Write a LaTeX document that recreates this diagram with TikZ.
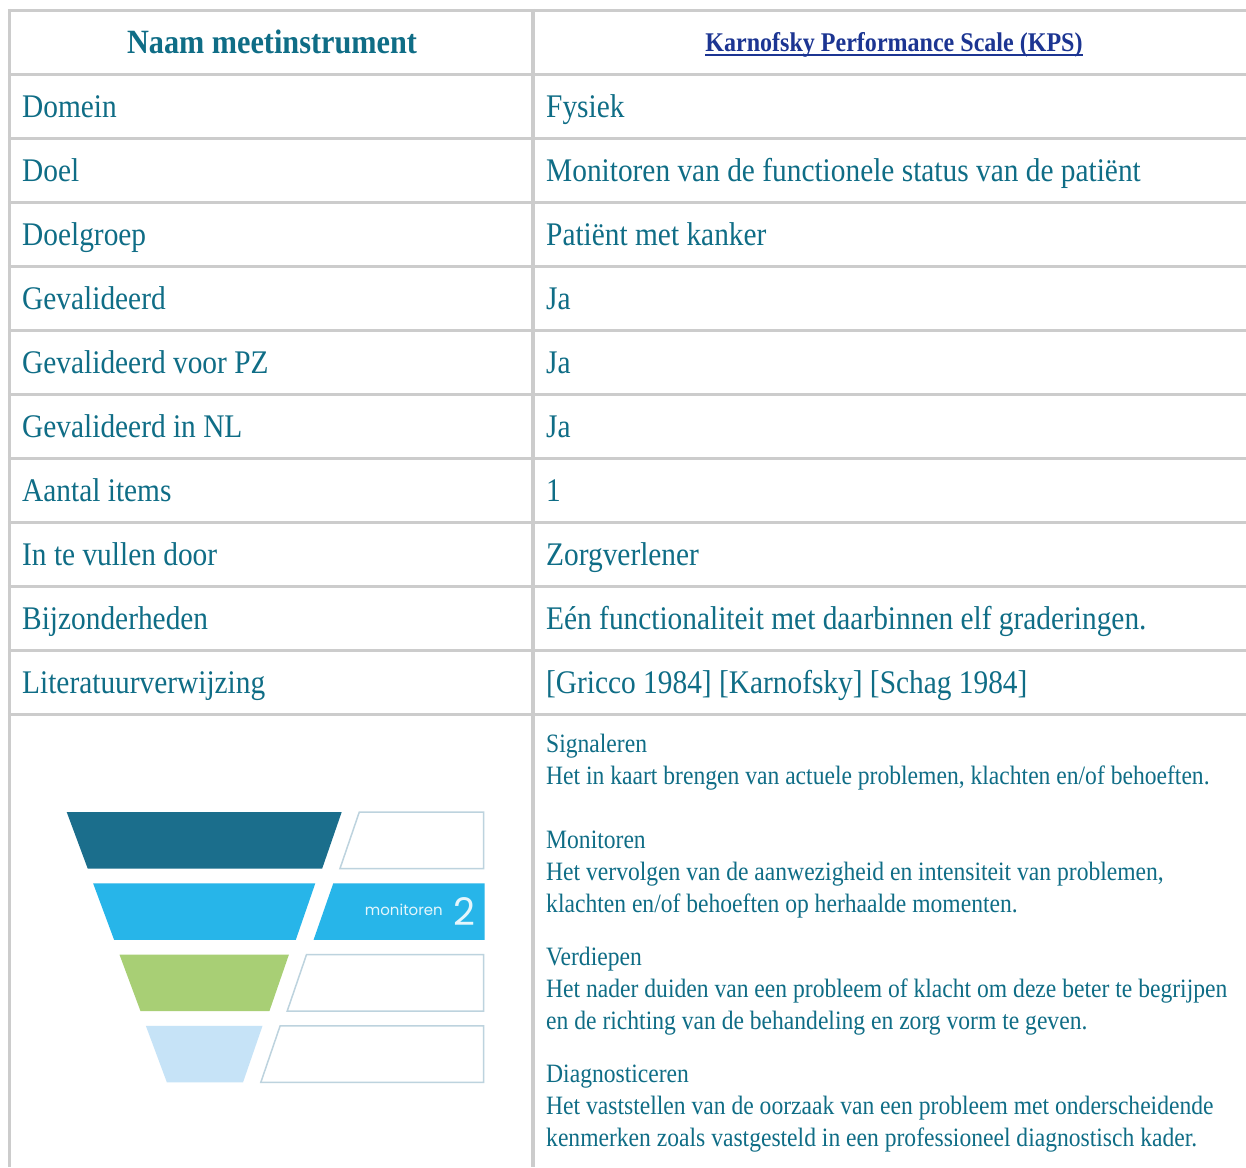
\documentclass[tikz,border=0pt]{standalone}
\usepackage{fontspec}
\setmainfont{Liberation Serif}[FakeStretch=0.89]
\newfontfamily\funnelfont{Poppins}
\definecolor{grid}{HTML}{CCCCCC}
\definecolor{tealtext}{HTML}{0F6D86}
\definecolor{linkblue}{HTML}{1C3592}
\definecolor{fdark}{HTML}{1B6E8C}
\definecolor{fblue}{HTML}{27B5E9}
\definecolor{fgreen}{HTML}{A8CF75}
\definecolor{flight}{HTML}{C6E3F7}
\definecolor{fline}{HTML}{BDD3DE}
\tikzset{
  gridline/.style={draw=grid, line width=3.5pt},
  celltext/.style={anchor=base west, inner sep=0pt, text=tealtext, font=\fontsize{33}{40}\selectfont},
  desctext/.style={anchor=base west, inner sep=0pt, text=tealtext, font=\fontsize{26.5}{32}\selectfont},
  headtext/.style={anchor=base, inner sep=0pt, text=tealtext, font=\fontsize{34}{40}\selectfont\bfseries},
  linktext/.style={anchor=base, inner sep=0pt, text=linkblue, font=\fontsize{27}{32}\selectfont\bfseries},
  stepbox/.style={fill=white, draw=fline, line width=1.5pt},
  funneltext/.style={anchor=base east, inner sep=0pt, text=white!88!fblue},
}
\begin{document}
\begin{tikzpicture}[x=1pt,y=-1pt]
\useasboundingbox[fill=white] (0,0) rectangle (1246,1167);
% grid
\foreach \k in {0,...,11}{
  \draw[gridline] (7.75,{10.5+64*\k}) -- (1246,{10.5+64*\k});
}
\draw[gridline] (9.5,8.75) -- (9.5,1167);
\draw[gridline] (533,8.75) -- (533,1167);
% header
\node[headtext] (head) at (272,53.5) {Naam meetinstrument};
\node[linktext] (kps) at (894,51.5) {Karnofsky Performance Scale (KPS)};
\draw[linkblue, line width=1.8pt] ([yshift=-3.5pt]kps.base west) -- ([yshift=-3.5pt]kps.base east);
% rows
\node[celltext] (l1) at (22,117.5) {Domein};
\node[celltext] (v1) at (546,117.5) {Fysiek};
\node[celltext] (l2) at (22,181.5) {Doel};
\node[celltext] (v2) at (546,181.5) {Monitoren van de functionele status van de patiënt};
\node[celltext] (l3) at (22,245.5) {Doelgroep};
\node[celltext] (v3) at (546,245.5) {Patiënt met kanker};
\node[celltext] (l4) at (22,309.5) {Gevalideerd};
\node[celltext] (v4) at (546,309.5) {Ja};
\node[celltext] (l5) at (22,373.5) {Gevalideerd voor PZ};
\node[celltext] (v5) at (546,373.5) {Ja};
\node[celltext] (l6) at (22,437.5) {Gevalideerd in NL};
\node[celltext] (v6) at (546,437.5) {Ja};
\node[celltext] (l7) at (22,501.5) {Aantal items};
\node[celltext] (v7) at (546,501.5) {1};
\node[celltext] (l8) at (22,565.5) {In te vullen door};
\node[celltext] (v8) at (546,565.5) {Zorgverlener};
\node[celltext] (l9) at (22,629.5) {Bijzonderheden};
\node[celltext] (v9) at (546,629.5) {Eén functionaliteit met daarbinnen elf graderingen.};
\node[celltext] (l10) at (22,693.5) {Literatuurverwijzing};
\node[celltext] (v10) at (546,693.5) {[Gricco 1984] [Karnofsky] [Schag 1984]};
% funnel
\fill[fdark] (66.7,812) -- (341.7,812) -- (322.2,868.5) -- (87.7,868.5) -- cycle;
\path[stepbox] (359.3,812) -- (483.5,812) -- (483.5,868.5) -- (340,868.5) -- cycle;
\fill[fblue] (93.1,883.3) -- (315.3,883.3) -- (295.8,939.8) -- (114.1,939.8) -- cycle;
\fill[fblue] (333.3,883.3) -- (484.5,883.3) -- (484.5,939.8) -- (313.6,939.8) -- cycle;
\fill[fgreen] (119.5,954.6) -- (288.9,954.6) -- (269.4,1011.1) -- (140.5,1011.1) -- cycle;
\path[stepbox] (306.5,954.6) -- (483.5,954.6) -- (483.5,1011.1) -- (287.2,1011.1) -- cycle;
\fill[flight] (145.9,1025.9) -- (262.5,1025.9) -- (243,1082.4) -- (166.9,1082.4) -- cycle;
\path[stepbox] (280.1,1025.9) -- (483.5,1025.9) -- (483.5,1082.4) -- (260.8,1082.4) -- cycle;
\node[funneltext, font=\funnelfont\fontsize{15}{18}\selectfont] (mon) at (443,915) {monitoren};
\node[funneltext, font=\funnelfont\fontsize{38}{40}\selectfont] (two) at (476,925.5) {2};
% description
\node[desctext] (d1) at (546,752) {Signaleren};
\node[desctext] (d2) at (546,784) {Het in kaart brengen van actuele problemen, klachten en/of behoeften.};
\node[desctext] (d3) at (546,848) {Monitoren};
\node[desctext] (d4) at (546,880) {Het vervolgen van de aanwezigheid en intensiteit van problemen,};
\node[desctext] (d5) at (546,912) {klachten en/of behoeften op herhaalde momenten.};
\node[desctext] (d6) at (546,965) {Verdiepen};
\node[desctext] (d7) at (546,997) {Het nader duiden van een probleem of klacht om deze beter te begrijpen};
\node[desctext] (d8) at (546,1029) {en de richting van de behandeling en zorg vorm te geven.};
\node[desctext] (d9) at (546,1082) {Diagnosticeren};
\node[desctext] (d10) at (546,1114) {Het vaststellen van de oorzaak van een probleem met onderscheidende};
\node[desctext] (d11) at (546,1146) {kenmerken zoals vastgesteld in een professioneel diagnostisch kader.};
\end{tikzpicture}
\end{document}
